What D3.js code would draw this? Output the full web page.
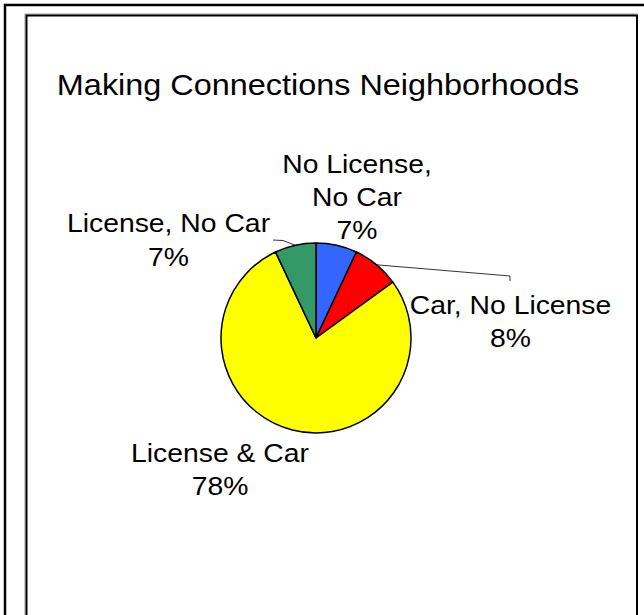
<!DOCTYPE html>
<html>
<head>
<meta charset="utf-8">
<script src="https://cdn.jsdelivr.net/npm/d3@7"></script>
<style>
  html, body { margin: 0; padding: 0; background: #fff; }
  svg { display: block; }
  text { font-family: "Liberation Sans", Arial, sans-serif; fill: #000; }
</style>
</head>
<body>
<svg id="chart" width="644" height="615"></svg>
<script>
const title = "Making Connections Neighborhoods";
const categories = ["No License, No Car", "Car, No License", "License & Car", "License, No Car"];
const values = [7, 8, 78, 7];
const labelLines = [["No License,", "No Car", "7%"], ["Car, No License", "8%"], ["License & Car", "78%"], ["License, No Car", "7%"]];
const colors = ["#3366FF", "#FF0000", "#FFFF00", "#339966"];

const svg = d3.select("#chart");
const W = 644, H = 615;

// frames
svg.append("path").attr("d", "M5,615 V5 H644").attr("fill", "none").attr("stroke", "#000").attr("stroke-width", 2.5);
svg.append("rect").attr("x", 25).attr("y", 14).attr("width", 612).attr("height", 700)
  .attr("fill", "none").attr("stroke", "#999").attr("stroke-width", 1);
svg.append("rect").attr("x", 26.5).attr("y", 15.5).attr("width", 610.5).attr("height", 700)
  .attr("fill", "none").attr("stroke", "#000").attr("stroke-width", 2);

// title
svg.append("text").attr("transform", "translate(318,94.5) scale(1.08,1)")
  .attr("text-anchor", "middle").attr("font-size", 30).text(title);

const cx = 316, cy = 338, r = 95;
const pie = d3.pie().sort(null).value(d => d);
const arcs = pie(values);
const arc = d3.arc().innerRadius(0).outerRadius(r);

const g = svg.append("g").attr("transform", `translate(${cx},${cy})`);
g.selectAll("path.slice").data(arcs).join("path")
  .attr("class", "slice")
  .attr("d", arc)
  .attr("fill", (d, i) => colors[i])
  .attr("stroke", "#000").attr("stroke-width", 1.5).attr("stroke-linejoin", "round");

// labels
const labelPos = [[357, 172.7, 33.3], [510.5, 314, 33.3], [220, 461.7, 33.3], [168.5, 232, 33.7]];
labelLines.forEach((lines, i) => {
  const [lx, ly, dy] = labelPos[i];
  lines.forEach((t, j) => {
    svg.append("text")
      .attr("transform", `translate(${lx},${ly + j * dy}) scale(1.09,1)`)
      .attr("text-anchor", "middle").attr("font-size", 26).text(t);
  });
});

// leader lines
function edgePoint(d) {
  const a = (d.startAngle + d.endAngle) / 2;
  return [cx + r * Math.sin(a), cy - r * Math.cos(a)];
}
const leaders = [
  { i: 1, pts: [[510, 276], [510, 281]] },
  { i: 3, pts: [[283, 240.5], [273, 240]] }
];
leaders.forEach(l => {
  const p0 = edgePoint(arcs[l.i]);
  svg.append("path")
    .attr("d", d3.line()([p0, ...l.pts]))
    .attr("fill", "none").attr("stroke", "#000").attr("stroke-width", 0.8);
});
</script>
</body>
</html>
